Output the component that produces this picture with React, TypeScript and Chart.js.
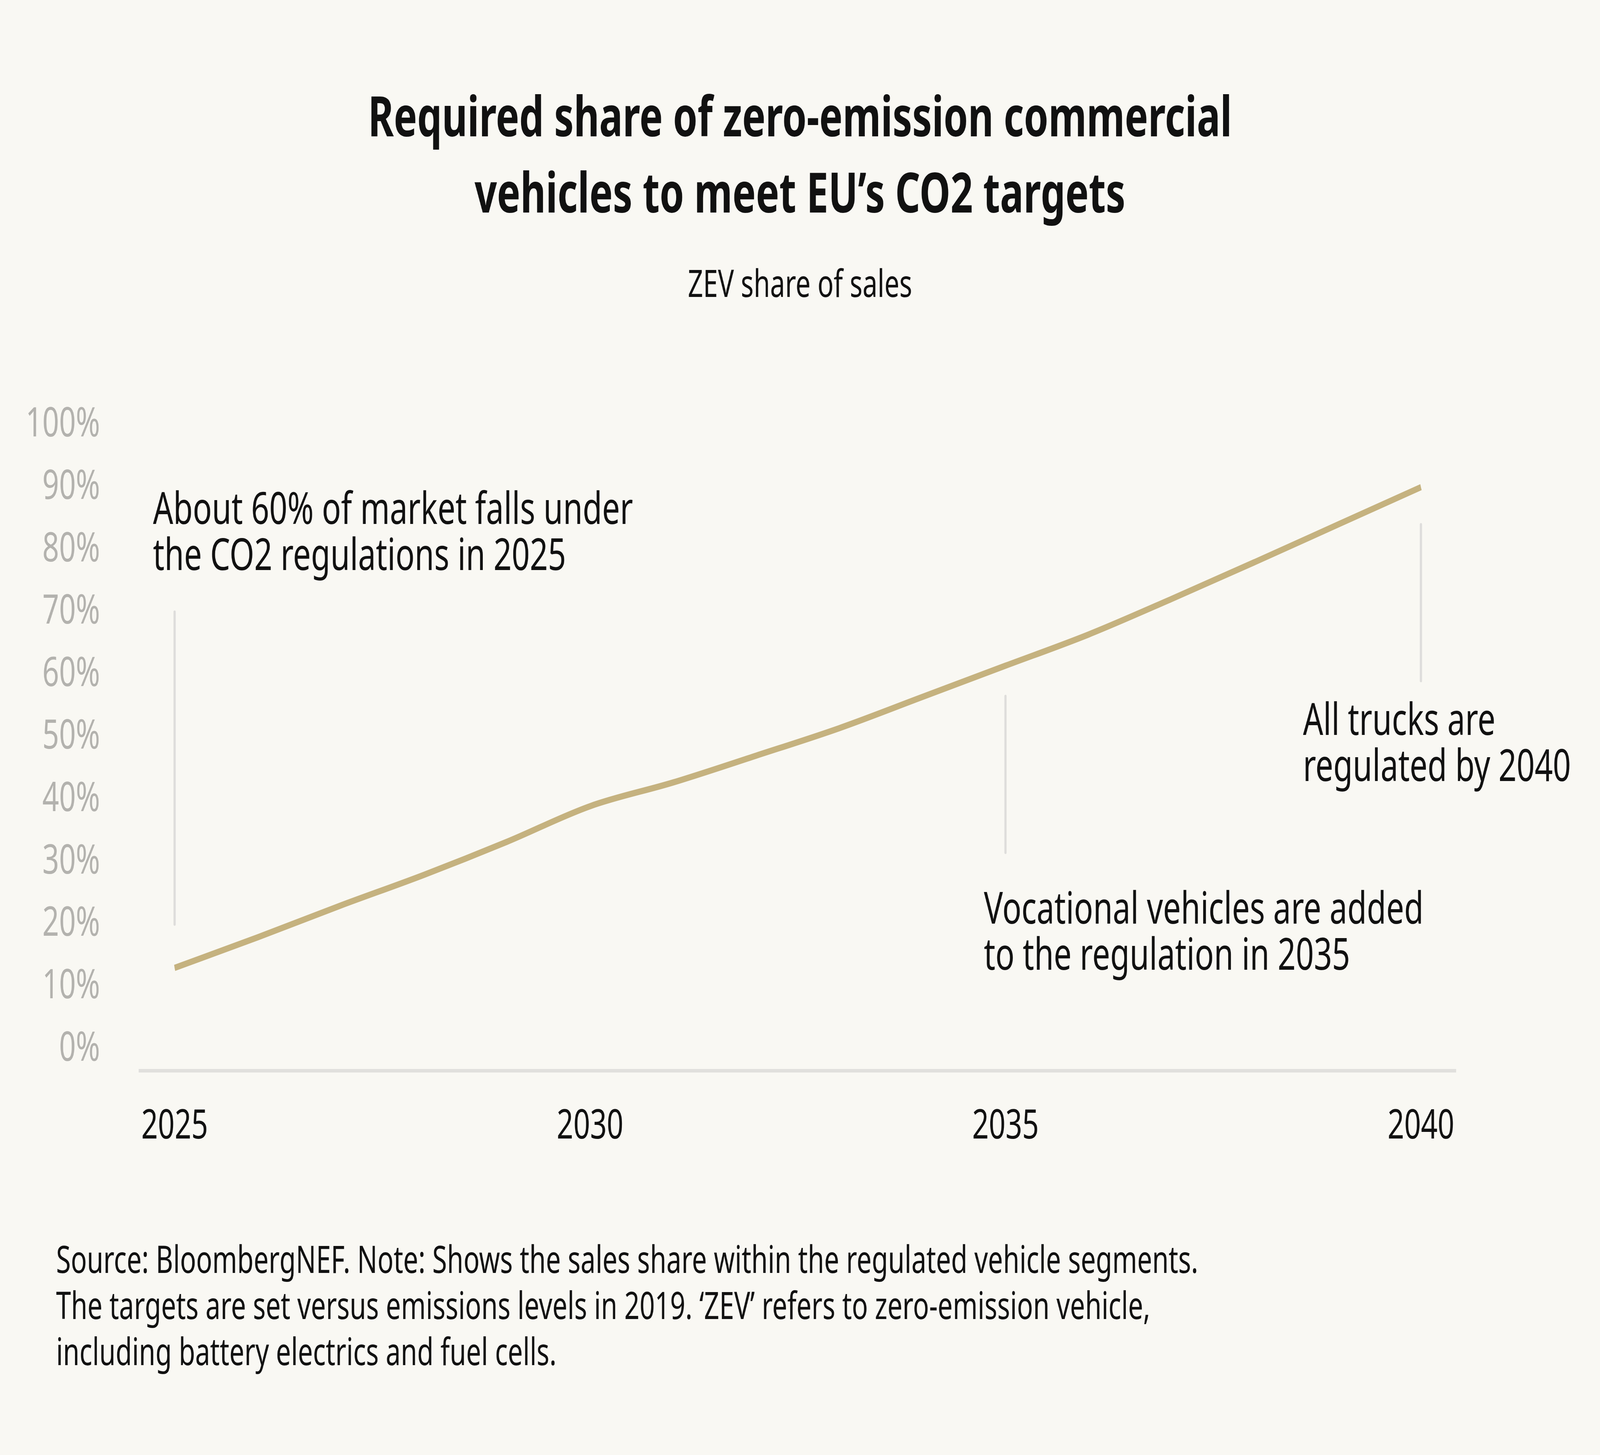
import React, { useEffect, useRef } from "react";
import { Chart, registerables } from "chart.js";

Chart.register(...registerables);

const W = 5760;
const H = 3724;
const FONT = "'Noto Sans', 'DejaVu Sans', sans-serif";

// ---- data ----
const years = [2025, 2026, 2027, 2028, 2029, 2030, 2031, 2032, 2033, 2034, 2035, 2036, 2037, 2038, 2039, 2040];
const zevShare = [13.0, 17.9, 23.0, 27.9, 33.2, 38.9, 42.7, 47.0, 51.4, 56.4, 61.4, 66.4, 72.1, 78.0, 84.0, 90.0];
const xTickYears = [2025, 2030, 2035, 2040];
const yTickValues = [0, 10, 20, 30, 40, 50, 60, 70, 80, 90, 100];

const titleLines = ["Required share of zero-emission commercial", "vehicles to meet EU\u2019s CO2 targets"];
const subtitleText = "ZEV share of sales";
const footerLines = [
  "Source: BloombergNEF. Note: Shows the sales share within the regulated vehicle segments.",
  "The targets are set versus emissions levels in 2019. \u2018ZEV\u2019 refers to zero-emission vehicle,",
  "including battery electrics and fuel cells.",
];

const noteYears = [2025, 2035, 2040];
const noteRanges = [
  [20, 70],
  [31.5, 56.5],
  [59, 84],
];
const noteTexts = [
  ["About 60% of market falls under", "the CO2 regulations in 2025"],
  ["Vocational vehicles are added", "to the regulation in 2035"],
  ["All trucks are", "regulated by 2040"],
];
// text anchor (left x in years, first baseline in %)
const noteAnchors = [
  [2024.74, 84.1],
  [2034.74, 20.1],
  [2038.58, 50.3],
];

const BG = "#f9f8f3";

const decorPlugin = {
  id: "decor",
  beforeDraw(chart: any) {
    const ctx = chart.ctx;
    ctx.save();
    ctx.fillStyle = BG;
    ctx.fillRect(0, 0, chart.width, chart.height);
    ctx.restore();
  },
  beforeDatasetsDraw(chart: any) {
    const ctx = chart.ctx;
    const xs = chart.scales.x;
    const ys = chart.scales.y;
    ctx.save();
    ctx.strokeStyle = "#dedddb";
    ctx.lineWidth = 8;
    ctx.lineCap = "round";
    noteYears.forEach((yr, i) => {
      const px = xs.getPixelForValue(yr);
      ctx.beginPath();
      ctx.moveTo(px, ys.getPixelForValue(noteRanges[i][0]));
      ctx.lineTo(px, ys.getPixelForValue(noteRanges[i][1]));
      ctx.stroke();
    });
    ctx.restore();
  },
  afterDraw(chart: any) {
    const ctx = chart.ctx;
    const xs = chart.scales.x;
    const ys = chart.scales.y;
    ctx.save();
    ctx.fillStyle = "#111111";
    ctx.textBaseline = "alphabetic";

    // title
    ctx.textAlign = "center";
    ctx.font = `bold 141px ${FONT}`;
    ctx.fillText(titleLines[0], W / 2, 349);
    ctx.fillText(titleLines[1], W / 2, 544);

    // subtitle
    ctx.font = `96px ${FONT}`;
    ctx.fillText(subtitleText, W / 2, 760);

    // annotations
    ctx.textAlign = "left";
    ctx.font = `114px ${FONT}`;
    noteTexts.forEach((lines, i) => {
      const lx = xs.getPixelForValue(noteAnchors[i][0]);
      const by = ys.getPixelForValue(noteAnchors[i][1]);
      lines.forEach((t, j) => ctx.fillText(t, lx, by + j * 118));
    });

    // footer
    ctx.font = `96px ${FONT}`;
    footerLines.forEach((t, j) => ctx.fillText(t, 202, 3258 + j * 118));
    ctx.restore();
  },
};

export default function App() {
  const ref = useRef<HTMLCanvasElement | null>(null);

  useEffect(() => {
    document.body.style.margin = "0";
    document.body.style.overflow = "hidden";
    document.body.style.background = BG;
    const canvas = ref.current;
    if (!canvas) return;
    const chart = new Chart(canvas, {
      type: "line",
      data: {
        datasets: [
          {
            label: "ZEV share of sales",
            data: years.map((yr, i) => ({ x: yr, y: zevShare[i] })),
            borderColor: "#c5b27f",
            backgroundColor: "#c5b27f",
            borderWidth: 16,
            pointRadius: 0,
            pointHoverRadius: 0,
            cubicInterpolationMode: "monotone",
            borderCapStyle: "butt",
            borderJoinStyle: "round",
            clip: false as any,
          },
        ],
      },
      options: {
        animation: false,
        responsive: false,
        maintainAspectRatio: false,
        devicePixelRatio: 1,
        events: [],
        layout: { padding: { left: 0, right: W - 5241, top: 1087, bottom: H - 2740 - 220 } },
        plugins: {
          legend: { display: false },
          tooltip: { enabled: false },
          title: { display: false },
        },
        scales: {
          x: {
            type: "linear",
            min: 2024.58,
            max: 2040.42,
            grid: { display: false, drawTicks: false },
            border: { display: true, color: "#e1e0dd", width: 9 },
            ticks: {
              color: "#111111",
              font: { family: FONT, size: 105 },
              padding: 81,
              autoSkip: false,
              maxRotation: 0,
              callback: (v: any) => String(v),
            },
            afterBuildTicks: (s: any) => {
              s.ticks = xTickYears.map((v) => ({ value: v }));
            },
            afterFit: (s: any) => {
              s.height = 220;
            },
          },
          y: {
            type: "linear",
            min: -3.44,
            max: 100,
            grid: { display: false, drawTicks: false },
            border: { display: false },
            ticks: {
              color: "#b3b2ae",
              font: { family: FONT, size: 105 },
              padding: 143,
              callback: (v: any) => `${v}%`,
            },
            afterBuildTicks: (s: any) => {
              s.ticks = yTickValues.map((v) => ({ value: v }));
            },
            afterFit: (s: any) => {
              s.width = 503;
            },
          },
        },
      },
      plugins: [decorPlugin],
    });
    return () => chart.destroy();
  }, []);

  // The bitmap is drawn at the reference size and shown to fill the window.
  return <canvas ref={ref} width={W} height={H} style={{ display: "block", width: "100vw", height: "100vh" }} />;
}
